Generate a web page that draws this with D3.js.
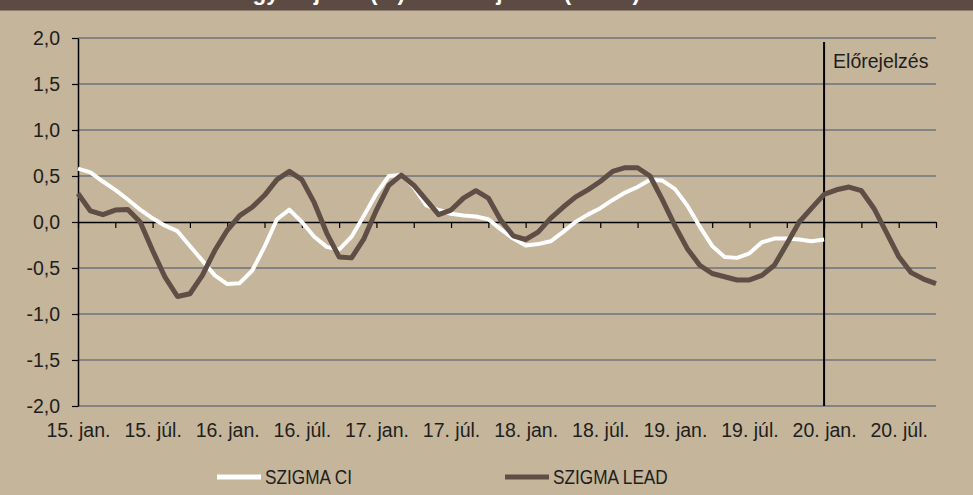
<!DOCTYPE html>
<html>
<head>
<meta charset="utf-8">
<script src="https://cdn.jsdelivr.net/npm/d3@7/dist/d3.min.js"></script>
<style>
  html, body { margin: 0; padding: 0; background: #c4b59b; }
  svg { display: block; font-family: "Liberation Sans", Arial, sans-serif; }
</style>
</head>
<body>
<svg id="chart" width="973" height="495"></svg>
<script>
// monthly observations, 2015 jan .. 2020 okt
var months = d3.utcMonth.range(new Date(Date.UTC(2015, 0, 1)), new Date(Date.UTC(2020, 10, 1)));

var sigmaCI = [
  0.58, 0.54, 0.44, 0.35, 0.245, 0.135, 0.04, -0.04, -0.10, -0.26, -0.42, -0.58,
  -0.675, -0.665, -0.53, -0.27, 0.03, 0.135, 0.0, -0.16, -0.27, -0.30, -0.16, 0.07,
  0.31, 0.50, 0.51, 0.38, 0.18, 0.13, 0.09, 0.07, 0.06, 0.03, -0.08, -0.18,
  -0.255, -0.24, -0.21, -0.11, 0.0, 0.08, 0.15, 0.24, 0.32, 0.38, 0.46, 0.45,
  0.36, 0.18, -0.05, -0.26, -0.38, -0.39, -0.34, -0.22, -0.18, -0.18, -0.19, -0.21,
  -0.19
];

var sigmaLead = [
  0.31, 0.12, 0.08, 0.13, 0.135, 0.0, -0.31, -0.60, -0.81, -0.78, -0.58, -0.31,
  -0.09, 0.07, 0.16, 0.29, 0.46, 0.55, 0.46, 0.21, -0.12, -0.38, -0.39, -0.18,
  0.13, 0.40, 0.51, 0.40, 0.24, 0.08, 0.13, 0.26, 0.34, 0.26, 0.02, -0.15,
  -0.19, -0.11, 0.04, 0.16, 0.27, 0.35, 0.44, 0.55, 0.59, 0.59, 0.50, 0.24,
  -0.04, -0.29, -0.47, -0.56, -0.595, -0.63, -0.63, -0.58, -0.47, -0.24, 0.0, 0.15,
  0.30, 0.35, 0.38, 0.34, 0.15, -0.11, -0.375, -0.55, -0.62, -0.67
];

var xLabels = ["15. jan.", "15. júl.", "16. jan.", "16. júl.", "17. jan.", "17. júl.",
               "18. jan.", "18. júl.", "19. jan.", "19. júl.", "20. jan.", "20. júl."];
var yTicks = [-2, -1.5, -1, -0.5, 0, 0.5, 1, 1.5, 2];
var forecastStart = new Date(Date.UTC(2020, 0, 1));
var titleText = "SZIGMA CI gyorsjelző (%) és előrejelzés (LEAD)";
var seriesNames = ["SZIGMA CI", "SZIGMA LEAD"];

var W = 973, H = 495;
var margin = {top: 38, left: 78, right: 37, bottom: 89};

var svg = d3.select("#chart");

//Title bar, only the descenders of the title show (as in the source picture)
svg.append("rect").attr("x", 0).attr("y", 0).attr("width", W).attr("height", 10.5).attr("fill", "#5b4b42");
svg.append("clipPath").attr("id", "titleclip")
   .append("rect").attr("x", 0).attr("y", 0).attr("width", W).attr("height", 10.5);
svg.append("text")
   .attr("clip-path", "url(#titleclip)")
   .attr("x", 640).attr("y", -0.5)
   .attr("text-anchor", "end")
   .attr("fill", "#fff")
   .attr("font-weight", "bold")
   .attr("font-size", 22.5)
   .text(titleText);

var x = d3.scalePoint().domain(months.map(function(d) { return +d; }))
          .range([margin.left, W - margin.right]);
var y = d3.scaleLinear().domain([-2, 2]).range([H - margin.bottom, margin.top]);

var huLocale = d3.formatLocale({decimal: ",", thousands: " ", grouping: [3], currency: ["", " Ft"], minus: "-"});
var fmt = huLocale.format(".1f");

//Gridlines
svg.append("g").selectAll("line")
   .data(yTicks.filter(function(v) { return v !== 0; }))
   .enter().append("line")
   .attr("x1", margin.left).attr("x2", W - margin.right)
   .attr("y1", function(d) { return y(d); }).attr("y2", function(d) { return y(d); })
   .attr("stroke", "#838383").attr("stroke-width", 2);

//Y axis
var yAxis = svg.append("g")
   .attr("transform", "translate(" + margin.left + ",0)")
   .call(d3.axisLeft(y).tickValues(yTicks).tickFormat(fmt).tickSize(6).tickSizeOuter(0).tickPadding(12));
yAxis.select(".domain").attr("stroke", "#000").attr("stroke-width", 1.5);
yAxis.selectAll(".tick line").attr("stroke", "#000").attr("stroke-width", 1.2);
yAxis.selectAll(".tick text").attr("font-size", 19.5).attr("fill", "#1e1e1e")
   .attr("font-family", "Liberation Sans, Arial, sans-serif");

//Zero axis with quarterly ticks
var quarters = months.filter(function(d, i) { return i % 3 === 0; }).map(function(d) { return +d; });
var xAxis = svg.append("g")
   .attr("transform", "translate(0," + y(0) + ")")
   .call(d3.axisBottom(x).tickValues(quarters).tickFormat("").tickSize(6).tickSizeOuter(0));
xAxis.select(".domain").attr("stroke", "#000").attr("stroke-width", 1.5);
xAxis.selectAll(".tick line").attr("stroke", "#000").attr("stroke-width", 1.2);

//Category labels under the plot
var halfYears = months.filter(function(d, i) { return i % 6 === 0; }).map(function(d) { return +d; });
var xLab = svg.append("g")
   .attr("transform", "translate(0," + (H - margin.bottom) + ")")
   .call(d3.axisBottom(x).tickValues(halfYears)
         .tickFormat(function(d, i) { return xLabels[i]; }).tickSize(0).tickPadding(17));
xLab.select(".domain").remove();
xLab.selectAll(".tick text").attr("font-size", 19.5).attr("fill", "#1e1e1e")
   .attr("font-family", "Liberation Sans, Arial, sans-serif");

//Forecast marker
var fx = x(+forecastStart);
svg.append("line")
   .attr("x1", fx).attr("x2", fx)
   .attr("y1", margin.top + 4).attr("y2", H - margin.bottom)
   .attr("stroke", "#000").attr("stroke-width", 2);
svg.append("text")
   .attr("x", fx + 9).attr("y", 68)
   .attr("font-size", 19.5).attr("fill", "#1e1e1e")
   .text("Előrejelzés");

//Lines
var line = d3.line()
   .x(function(d, i) { return x(+months[i]); })
   .y(function(d) { return y(d); });

svg.append("path")
   .datum(sigmaCI)
   .attr("fill", "none").attr("stroke", "#ffffff").attr("stroke-width", 4)
   .attr("stroke-linejoin", "round")
   .attr("d", line);

svg.append("path")
   .datum(sigmaLead)
   .attr("fill", "none").attr("stroke", "#5e4e46").attr("stroke-width", 5)
   .attr("stroke-linejoin", "round")
   .attr("d", line);

//Legend
var legend = [
  {name: seriesNames[0], color: "#ffffff", x: 217},
  {name: seriesNames[1], color: "#5e4e46", x: 505}
];
var lg = svg.append("g").selectAll("g").data(legend).enter().append("g")
   .attr("transform", function(d) { return "translate(" + d.x + ",477)"; });
lg.append("line")
   .attr("x1", 0).attr("x2", 44).attr("y1", 0).attr("y2", 0)
   .attr("stroke", function(d) { return d.color; }).attr("stroke-width", 5);
lg.append("text")
   .attr("transform", "translate(48,7) scale(0.84,1)")
   .attr("font-size", 20.5).attr("fill", "#1e1e1e")
   .text(function(d) { return d.name; });
</script>
</body>
</html>
